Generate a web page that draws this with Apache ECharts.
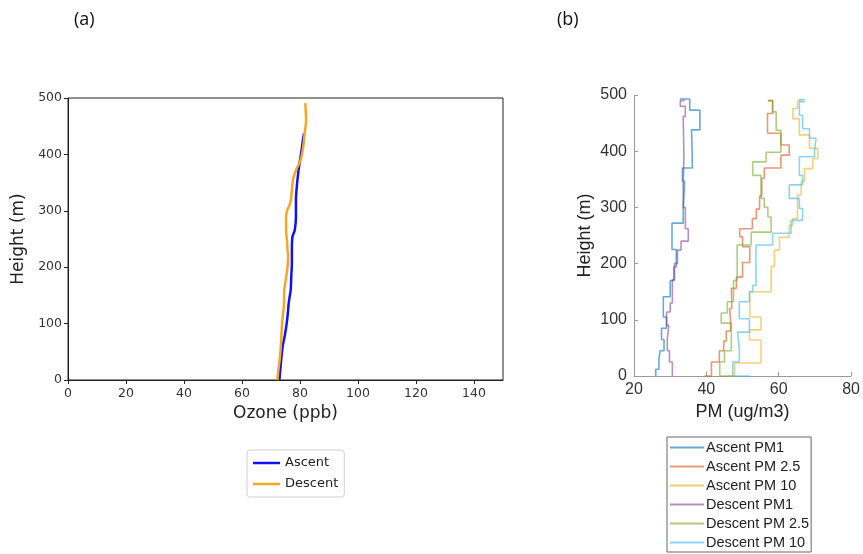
<!DOCTYPE html>
<html><head><meta charset="utf-8">
<script src="https://cdn.jsdelivr.net/npm/echarts@6/dist/echarts.min.js"></script>
<style>html,body{margin:0;padding:0;background:#fff}#c{width:863px;height:554px}</style>
</head><body><div id="c"></div>
<script>
// ---------- Panel (a): Ozone profiles ----------
const ozoneAscentH = [0, 12, 24, 40, 59, 80, 100, 118, 136, 150, 160, 185, 207, 230, 254, 266, 290, 319, 343, 372, 396, 413, 425, 437];
const ozoneAscentV = [72.9, 73.1, 73.3, 73.6, 74.0, 74.8, 75.4, 75.8, 76.1, 76.5, 76.8, 77.0, 77.2, 77.2, 77.4, 78.2, 78.6, 78.6, 78.9, 79.5, 80.2, 80.7, 81.0, 81.4];
const ozoneDescentH = [0, 20, 41, 70, 100, 120, 136, 155, 171, 185, 195, 219, 230, 242, 266, 290, 301, 313, 325, 337, 358, 372, 390, 413, 437, 461, 475, 491];
const ozoneDescentV = [72.2, 72.6, 73.1, 73.5, 73.8, 74.2, 74.5, 74.5, 74.9, 75.3, 75.6, 75.9, 75.7, 75.6, 75.2, 75.2, 75.6, 76.6, 77.0, 77.2, 77.7, 78.6, 80.2, 81.1, 81.6, 82.1, 82.0, 81.8];
const ozoneXTicks = [0, 150, 20];
const heightTicks = [0, 500, 100];

// ---------- Panel (b): PM stair profiles (value holds from h[i] to h[i+1]) ----------
const ascPM1H = [0, 12, 30, 45, 65, 85, 105, 141, 170, 194, 225, 272, 295, 346, 370, 390, 438, 473, 493, 493];
const ascPM1V = [26.0, 26.9, 27.2, 28.3, 27.6, 29.0, 28.1, 30.0, 31.0, 31.7, 30.5, 33.6, 34.0, 33.4, 36.1, 35.9, 38.2, 35.4, 32.7];
const ascPM25H = [0, 0, 25, 45, 62, 80, 98, 120, 138, 156, 176, 202, 230, 248, 262, 280, 297, 320, 352, 370, 393, 411, 432, 467, 490, 490];
const ascPM25V = [39.5, 41.4, 43.6, 44.8, 45.5, 46.7, 46.4, 47.0, 46.9, 48.3, 50.0, 52.0, 50.0, 49.2, 52.7, 53.8, 54.7, 55.3, 56.0, 60.6, 62.9, 60.6, 56.9, 58.3, 57.0];
const ascPM10H = [0, 0, 23, 64, 82, 105, 150, 195, 224, 247, 268, 280, 322, 346, 369, 387, 405, 429, 458, 476, 490, 490];
const ascPM10V = [46.0, 47.8, 55.1, 51.9, 55.1, 52.0, 57.9, 58.8, 60.2, 62.9, 63.9, 65.2, 66.2, 67.1, 69.4, 70.8, 68.5, 65.7, 63.9, 65.2, 66.5];
const desPM1H = [0, 25, 45, 65, 90, 114, 130, 171, 200, 224, 240, 262, 300, 340, 390, 462, 480, 490, 490];
const desPM1V = [30.6, 29.8, 29.2, 29.6, 29.0, 30.0, 30.6, 31.2, 32.0, 33.0, 35.0, 34.2, 33.6, 33.8, 33.6, 34.2, 32.8, 34.0];
const desPM25H = [0, 0, 25, 45, 94, 112, 132, 170, 233, 256, 283, 300, 316, 357, 381, 398, 437, 470, 490, 490];
const desPM25V = [47.0, 43.7, 45.0, 46.9, 44.1, 45.8, 47.5, 48.5, 52.4, 57.9, 57.0, 56.0, 55.1, 52.8, 56.5, 60.6, 59.3, 58.3, 57.0];
const desPM10H = [0, 0, 25, 49, 78, 102, 132, 150, 161, 233, 254, 277, 298, 316, 340, 357, 390, 400, 423, 440, 464, 488, 492, 492];
const desPM10V = [52.0, 47.3, 49.1, 48.6, 51.9, 49.1, 51.9, 52.8, 53.7, 58.3, 63.4, 66.6, 65.7, 62.9, 66.6, 65.7, 69.9, 70.3, 68.5, 66.6, 65.7, 67.0, 65.5];
const pmXTicks = [20, 80, 20];

const pmNames = ['Ascent PM1', 'Ascent PM 2.5', 'Ascent PM 10', 'Descent PM1', 'Descent PM 2.5', 'Descent PM 10'];
const pmColors = ['rgba(0,114,189,0.6)', 'rgba(217,83,25,0.6)', 'rgba(237,177,32,0.6)', 'rgba(126,47,142,0.55)', 'rgba(119,172,48,0.6)', 'rgba(77,190,238,0.65)'];

function profile(hs, vs) { return hs.map((h, i) => [vs[i], h]); }
function stairs(hs, vs) {
  const pts = [];
  for (let i = 0; i < vs.length; i++) { pts.push([vs[i], hs[i]]); pts.push([vs[i], hs[i + 1]]); }
  return pts;
}
const pmData = [
  stairs(ascPM1H, ascPM1V), stairs(ascPM25H, ascPM25V), stairs(ascPM10H, ascPM10V),
  stairs(desPM1H, desPM1V), stairs(desPM25H, desPM25V), stairs(desPM10H, desPM10V)
];

const chart = echarts.init(document.getElementById('c'), null, {renderer: 'canvas'});
const fA = 'DejaVu Sans', fB = 'Liberation Sans';

const series = [
  {name: 'Ascent', type: 'line', xAxisIndex: 0, yAxisIndex: 0, data: profile(ozoneAscentH, ozoneAscentV),
   showSymbol: false, smooth: 0.3, lineStyle: {color: '#1010ff', width: 2.5}, itemStyle: {color: '#1010ff'}, z: 3},
  {name: 'Descent', type: 'line', xAxisIndex: 0, yAxisIndex: 0, data: profile(ozoneDescentH, ozoneDescentV),
   showSymbol: false, smooth: 0.3, lineStyle: {color: '#f5a623', width: 2.5}, itemStyle: {color: '#f5a623'}, z: 4}
];
pmNames.forEach((n, i) => series.push({
  name: n, type: 'line', xAxisIndex: 1, yAxisIndex: 1, data: pmData[i], showSymbol: false,
  lineStyle: {color: pmColors[i], width: 1.6}, itemStyle: {color: pmColors[i]}
}));

chart.setOption({
  animation: false,
  backgroundColor: '#fff',
  title: [
    {text: '(a)', left: 69, top: 6, textStyle: {fontSize: 18, fontWeight: 'normal', fontFamily: 'Open Sans', color: '#111'}},
    {text: '(b)', left: 552, top: 6, textStyle: {fontSize: 18, fontWeight: 'normal', fontFamily: 'Open Sans', color: '#111'}}
  ],
  grid: [
    {left: 68, top: 98, width: 435, height: 282, show: true, borderColor: '#222', borderWidth: 1, backgroundColor: 'transparent'},
    {left: 634, top: 95, width: 218, height: 281}
  ],
  xAxis: [
    {gridIndex: 0, type: 'value', min: ozoneXTicks[0], max: ozoneXTicks[1], interval: ozoneXTicks[2],
     axisLine: {show: true, onZero: false, lineStyle: {color: '#222', width: 1}},
     axisTick: {show: true, length: 4, lineStyle: {color: '#222'}},
     axisLabel: {showMaxLabel: false, color: '#333', fontSize: 12.5, fontFamily: fA, margin: 7},
     splitLine: {show: false},
     name: 'Ozone (ppb)', nameLocation: 'middle', nameGap: 23,
     nameTextStyle: {fontSize: 17, fontFamily: fA, color: '#222'}},
    {gridIndex: 1, type: 'value', min: pmXTicks[0], max: pmXTicks[1], interval: pmXTicks[2],
     axisLine: {show: true, onZero: false, lineStyle: {color: '#9a9a9a', width: 1}},
     axisTick: {show: true, inside: true, length: 4, lineStyle: {color: '#9a9a9a'}},
     axisLabel: {color: '#333', fontSize: 16, fontFamily: fB, margin: 6},
     splitLine: {show: false},
     name: 'PM (ug/m3)', nameLocation: 'middle', nameGap: 26,
     nameTextStyle: {fontSize: 18, fontFamily: fB, color: '#222'}}
  ],
  yAxis: [
    {gridIndex: 0, type: 'value', min: heightTicks[0], max: heightTicks[1], interval: heightTicks[2],
     axisLine: {show: true, onZero: false, lineStyle: {color: '#222', width: 1}},
     axisTick: {show: true, length: 4, lineStyle: {color: '#222'}},
     axisLabel: {color: '#333', fontSize: 12.5, fontFamily: fA, margin: 6},
     splitLine: {show: false},
     name: 'Height (m)', nameLocation: 'middle', nameGap: 40,
     nameTextStyle: {fontSize: 17, fontFamily: fA, color: '#222'}},
    {gridIndex: 1, type: 'value', min: heightTicks[0], max: heightTicks[1], interval: heightTicks[2],
     axisLine: {show: true, onZero: false, lineStyle: {color: '#9a9a9a', width: 1}},
     axisTick: {show: true, inside: true, length: 4, lineStyle: {color: '#9a9a9a'}},
     axisLabel: {color: '#333', fontSize: 16, fontFamily: fB, margin: 7},
     splitLine: {show: false},
     name: 'Height (m)', nameLocation: 'middle', nameGap: 40,
     nameTextStyle: {fontSize: 18, fontFamily: fB, color: '#222'}}
  ],
  legend: [
    {data: ['Ascent', 'Descent'], orient: 'vertical', left: 247, top: 450, height: 80, padding: [5, 6, 5, 6],
     itemWidth: 27, itemHeight: 2.5, itemGap: 5, borderColor: '#d0d0d0', borderWidth: 1, borderRadius: 3,
     icon: 'rect',
     textStyle: {fontSize: 13, fontFamily: fA, color: '#222', lineHeight: 16}},
    {data: pmNames, orient: 'vertical', left: 667, top: 437, height: 150, padding: [2, 2, 1, 3],
     itemWidth: 34, itemHeight: 2, itemGap: 2, borderColor: '#666', borderWidth: 1, borderRadius: 0,
     icon: 'rect',
     textStyle: {fontSize: 14.5, fontFamily: fB, color: '#222', lineHeight: 17, padding: [0, 0, 0, -3]}}
  ],
  series: series
});
</script>
</body></html>
